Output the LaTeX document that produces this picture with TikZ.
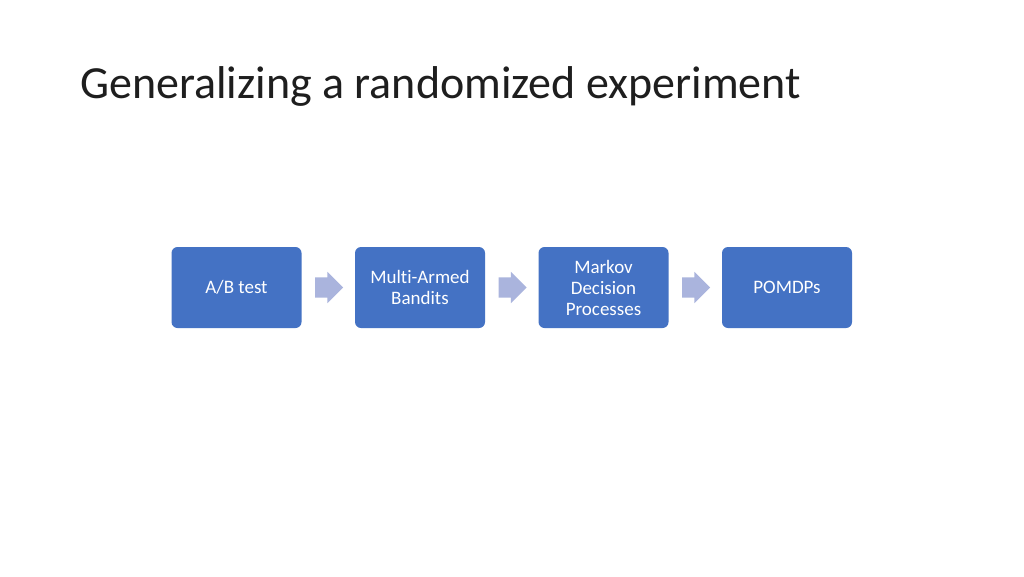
\documentclass[tikz,border=0pt]{standalone}
\usepackage{fontspec}
\setmainfont[Ligatures=NoCommon]{Carlito}
\usetikzlibrary{shapes.arrows}
\definecolor{boxblue}{HTML}{4472C4}
\definecolor{arrowblue}{HTML}{AAB4DD}
\definecolor{titlecol}{HTML}{1E1E1E}
\tikzset{
  stepbox/.style={fill=boxblue, draw=none, rounded corners=6pt, minimum width=130pt, minimum height=81pt, inner sep=0pt, text=white, align=center, font=\fontsize{19}{21}\selectfont},
  flowarrow/.style={fill=arrowblue, draw=none, single arrow, single arrow head extend=5.5pt, minimum height=28pt, inner xsep=0pt, inner ysep=10pt, single arrow tip angle=90, text height=0pt, text depth=0pt}
}
\begin{document}
\begin{tikzpicture}[x=1pt,y=-1pt]
\useasboundingbox (0,0) rectangle (1024,576);
\fill[white] (0,0) rectangle (1024,576);
\node[anchor=base west, inner sep=0pt, text=titlecol, font=\fontsize{46}{50}\selectfont] (title) at (80,98.5) {Generalizing a randomized experiment};
\node[stepbox] (ab) at (236.5,287.5) {A/B test};
\node[stepbox] (mab) at (420,287.5) {Multi-Armed\\Bandits};
\node[stepbox] (mdp) at (603.5,287.5) {Markov\\Decision\\Processes};
\node[stepbox] (pomdp) at (787,287.5) {POMDPs};
\node[flowarrow] (a1) at (324,287.5) {};
\node[flowarrow] (a2) at (507.5,287.5) {};
\node[flowarrow] (a3) at (691,287.5) {};
\end{tikzpicture}
\end{document}
